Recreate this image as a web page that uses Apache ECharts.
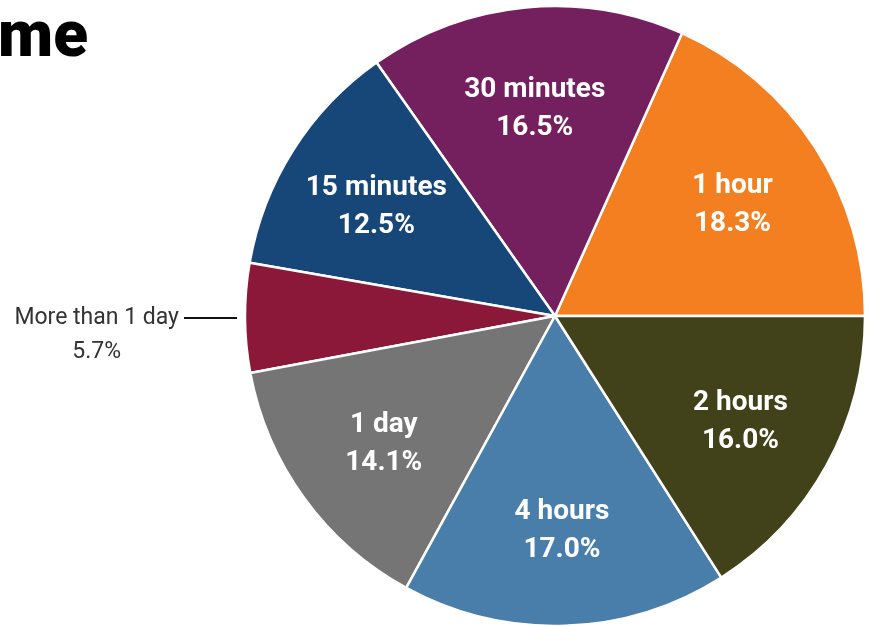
<!DOCTYPE html>
<html>
<head>
<meta charset="utf-8">
<script src="https://cdn.jsdelivr.net/npm/echarts@6/dist/echarts.min.js"></script>
<style>
  html, body { margin: 0; padding: 0; background: #fff; }
  #chart { width: 869px; height: 626px; }
</style>
</head>
<body>
<div id="chart"></div>
<script>
// 数据: 从 3 点钟方向开始, 逆时针
var categories = ['1 hour', '30 minutes', '15 minutes', 'More than 1 day', '1 day', '4 hours', '2 hours'];
var shares = [18.3, 16.5, 12.5, 5.7, 14.1, 17.0, 16.0];
var colors = ['#f47f20', '#741f5e', '#174679', '#8c1839', '#757575', '#4a7eaa', '#41411a'];
var outsideNames = ['More than 1 day']; // 这个扇区太小, 标签放外面

var FONT = 'Roboto, "DejaVu Sans Condensed", sans-serif';
var CENTER = [555, 316];
var R = 310;

function pct(v) { return v.toFixed(1) + '%'; }

// 主饼图, 只画扇区
var sliceData = categories.map(function (name, i) {
    return { name: name, value: shares[i], itemStyle: { color: colors[i] } };
});

// 透明的环, 用来把内部标签推到 0.67R 左右
var innerLabelData = categories.map(function (name, i) {
    return {
        name: name,
        value: shares[i],
        label: { show: outsideNames.indexOf(name) < 0 }
    };
});

// 外部标签, 半径稍大一点让引线和扇区之间留缝
var outerLabelData = categories.map(function (name, i) {
    var show = outsideNames.indexOf(name) >= 0;
    return {
        name: name,
        value: shares[i],
        label: { show: show },
        labelLine: { show: show }
    };
});

var chart = echarts.init(document.getElementById('chart'));
chart.setOption({
    animation: false,
    title: {
        text: 'me',
        left: -2,
        top: 8,
        padding: 0,
        textStyle: { fontFamily: FONT, fontSize: 64, fontWeight: 900, color: '#000' }
    },
    series: [{
        type: 'pie',
        center: CENTER,
        radius: [0, R],
        startAngle: 0,
        clockwise: false,
        silent: true,
        label: { show: false },
        labelLine: { show: false },
        itemStyle: { borderColor: '#fff', borderWidth: 2.5 },
        data: sliceData
    }, {
        type: 'pie',
        center: CENTER,
        radius: [107, R],
        startAngle: 0,
        clockwise: false,
        silent: true,
        itemStyle: { color: 'rgba(0,0,0,0)', borderWidth: 0 },
        label: {
            position: 'inner',
            formatter: function (p) { return p.name + '\n' + pct(p.value); },
            color: '#fff',
            fontFamily: FONT,
            fontSize: 28,
            fontWeight: 'bold',
            lineHeight: 38,
            textShadowColor: 'rgba(20,10,0,0.85)',
            textShadowOffsetX: 1.5,
            textShadowOffsetY: 1.5,
            textShadowBlur: 0
        },
        labelLayout: { dy: 4 },
        labelLine: { show: false },
        data: innerLabelData
    }, {
        type: 'pie',
        center: CENTER,
        radius: [R + 8, R + 8],
        startAngle: 0,
        clockwise: false,
        silent: true,
        itemStyle: { color: 'rgba(0,0,0,0)', borderWidth: 0 },
        label: {
            position: 'outside',
            alignTo: 'none',
            bleedMargin: 0,
            overflow: 'none',
            distanceToLabelLine: 5,
            // 空的第一行, 让引线对齐到第一行文字
            formatter: function (p) { return '\n{a|' + p.name + '}\n{a|' + pct(p.value) + '}'; },
            lineHeight: 34,
            rich: {
                a: {
                    align: 'center',
                    fontFamily: FONT,
                    fontSize: 23,
                    color: '#333',
                    lineHeight: 34
                }
            }
        },
        labelLine: {
            length: 1,
            length2: 52,
            lineStyle: { color: '#111', width: 2 }
        },
        data: outerLabelData
    }]
});
</script>
</body>
</html>
